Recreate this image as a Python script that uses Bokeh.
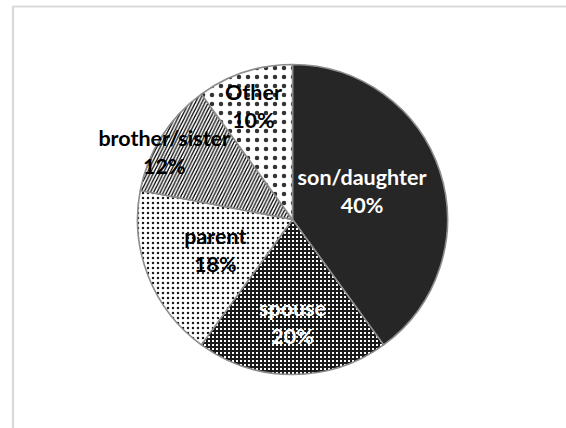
import math
from bokeh.plotting import figure
from bokeh.models import ColumnDataSource, Range1d, BoxAnnotation
from bokeh.core.properties import value
from bokeh.embed import file_html
from bokeh.resources import INLINE

# ---- data ----
categories = ["son/daughter", "spouse", "parent", "brother/sister", "Other"]
shares = [40, 20, 18, 12, 10]

# ---- styles / layout ----
W, H = 566, 428
cx, cy_screen, radius = 292, 219, 155
cy = H - cy_screen
fills = ["#262626", "#ffffff", "#ffffff", "#ffffff", "#ffffff"]
hatches = [" ", "cross", "dot", "right_diagonal_line", "dot"]
hatch_scales = [4, 4, 5, 6.5, 9]
hatch_weights = [1, 2, 1.1, 1.3, 0.8]
hatch_colors = ["#1a1a1a", "#1a1a1a", "#1a1a1a", "#000000", "#333333"]
label_colors = ["#ffffff", "#ffffff", "#000000", "#000000", "#000000"]
label_r = [75, 102, 83, 145, 120]
label_shift_deg = [-4, 0, 0, -4.6, -1]

total = sum(shares)
starts, ends, mids = [], [], []
acc = 0.0
for s in shares:
    f0 = acc / total
    acc += s
    f1 = acc / total
    starts.append(math.pi / 2 - 2 * math.pi * f0)
    ends.append(math.pi / 2 - 2 * math.pi * f1)
    mids.append((f0 + f1) / 2)

src = ColumnDataSource(dict(
    start=starts, end=ends, fill=fills, hatch=hatches,
    hscale=hatch_scales, hweight=hatch_weights, hcolor=hatch_colors,
))

p = figure(width=W, height=H, output_backend="svg", toolbar_location=None,
           x_range=Range1d(0, W), y_range=Range1d(0, H), min_border=0)
p.axis.visible = False
p.grid.visible = False
p.outline_line_color = None
p.background_fill_color = "white"
p.border_fill_color = "white"

# chart area frame (partially visible)
p.add_layout(BoxAnnotation(left=12.5, right=W + 20, top=H - 6, bottom=-20,
                           fill_color=None, line_color="#808080", line_width=2.2))

p.wedge(x=cx, y=cy, radius=radius, radius_units="screen",
        start_angle="start", end_angle="end", direction="clock",
        fill_color="fill", hatch_pattern="hatch", hatch_color="hcolor",
        hatch_scale="hscale", hatch_weight="hweight",
        line_color="#8c8c8c", line_width=1.6, source=src)

names_x, names_y, pcts_y, pct_text = [], [], [], []
for i, (c, s) in enumerate(zip(categories, shares)):
    ang = 2 * math.pi * mids[i] + math.radians(label_shift_deg[i])
    x = cx + label_r[i] * math.sin(ang)
    y = cy + label_r[i] * math.cos(ang)
    names_x.append(x)
    names_y.append(y + 14)
    pcts_y.append(y - 14)
    pct_text.append(f"{round(100 * s / total)}%")

lab = ColumnDataSource(dict(x=names_x, y1=names_y, y2=pcts_y,
                            name=categories, pct=pct_text, col=label_colors))
for ycol, tcol in (("y1", "name"), ("y2", "pct")):
    p.text(x="x", y=ycol, text=tcol, source=lab, text_color="col",
           text_font=value("Lato"), text_font_style="bold",
           text_font_size="21.5px", text_align="center", text_baseline="middle")

open("out.html", "w").write(file_html(p, INLINE))
